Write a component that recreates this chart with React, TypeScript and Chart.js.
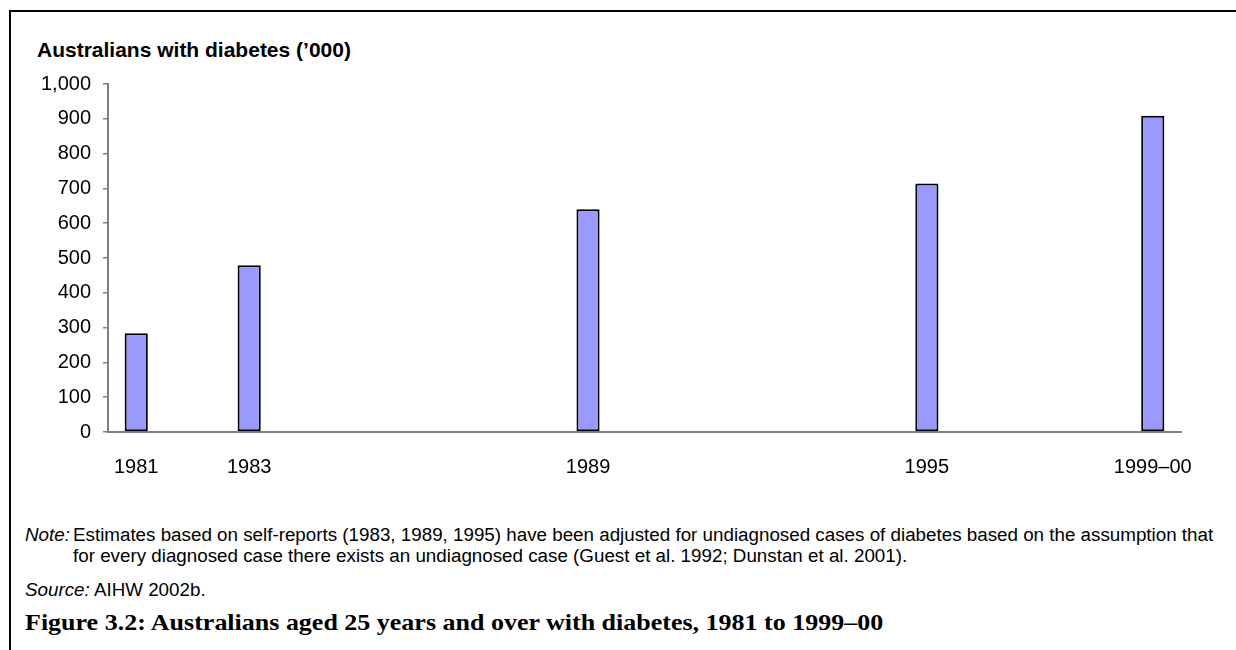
import React, { useEffect, useRef } from 'react';
import { Chart, registerables } from 'chart.js';

Chart.register(...registerables);

// Every year on the axis; only survey years carry a bar and a label
const categories = [
  '1981', '1982', '1983', '1984', '1985', '1986', '1987', '1988', '1989', '1990',
  '1991', '1992', '1993', '1994', '1995', '1996', '1997', '1998', '1999–00',
];
const surveyYears = ['1981', '1983', '1989', '1995', '1999–00'];
const diabetesThousands = [284, 479, 640, 714, 909];

const yTicks = [0, 100, 200, 300, 400, 500, 600, 700, 800, 900, 1000];

const axisTitle = 'Australians with diabetes (’000)';
const noteLines = [
  'Estimates based on self-reports (1983, 1989, 1995) have been adjusted for undiagnosed cases of diabetes based on the assumption that',
  'for every diagnosed case there exists an undiagnosed case (Guest et al. 1992; Dunstan et al. 2001).',
];
const sourceText = 'AIHW 2002b.';
const captionText = 'Figure 3.2: Australians aged 25 years and over with diabetes, 1981 to 1999–00';

const SANS = '"Liberation Sans", Arial, sans-serif';
const SERIF = '"Liberation Serif", "Times New Roman", serif';
const AXIS_GREY = '#808080';

export default function App() {
  const canvasRef = useRef<HTMLCanvasElement | null>(null);

  useEffect(() => {
    const canvas = canvasRef.current;
    if (!canvas) return;

    const series = categories.map((c) => {
      const i = surveyYears.indexOf(c);
      return i >= 0 ? diabetesThousands[i] : null;
    });

    const chart = new Chart(canvas, {
      type: 'bar',
      data: {
        labels: categories,
        datasets: [
          {
            data: series,
            backgroundColor: '#9999ff',
            borderColor: '#000000',
            borderWidth: 2,
            borderSkipped: false,
            categoryPercentage: 1,
            barPercentage: 0.41,
          },
        ],
      },
      options: {
        animation: false,
        responsive: false,
        devicePixelRatio: 1,
        layout: { padding: { left: 37, top: 24, right: 55, bottom: 6 } },
        plugins: {
          legend: { display: false },
          tooltip: { enabled: false },
          title: { display: false },
        },
        scales: {
          x: {
            type: 'category',
            offset: true,
            grid: { display: false },
            border: { display: true, color: AXIS_GREY, width: 2 },
            ticks: {
              autoSkip: false,
              maxRotation: 0,
              minRotation: 0,
              padding: 15,
              color: '#000000',
              font: { family: SANS, size: 20 },
              callback: (_v: any, index: number) =>
                surveyYears.includes(categories[index]) ? categories[index] : '',
            },
            afterFit: (s: any) => {
              s.height = 52;
            },
          },
          y: {
            min: yTicks[0],
            max: yTicks[yTicks.length - 1],
            afterBuildTicks: (s: any) => {
              s.ticks = yTicks.map((v) => ({ value: v }));
            },
            grid: {
              display: true,
              drawOnChartArea: false,
              drawTicks: true,
              tickLength: 5,
              color: AXIS_GREY,
              lineWidth: 1.5,
            },
            border: { display: true, color: AXIS_GREY, width: 2 },
            ticks: {
              padding: 12,
              color: '#000000',
              font: { family: SANS, size: 20 },
              callback: (v: any) => Number(v).toLocaleString('en-US'),
            },
            afterFit: (s: any) => {
              s.width = 71;
            },
          },
        },
      },
    });

    return () => chart.destroy();
  }, []);

  const noteStyle: React.CSSProperties = {
    position: 'absolute',
    fontSize: 18.8,
    lineHeight: '21px',
    whiteSpace: 'nowrap',
  };

  return (
    <div
      style={{
        position: 'fixed',
        left: 0,
        top: 0,
        width: 1236,
        height: 650,
        background: '#ffffff',
        overflow: 'hidden',
        fontFamily: SANS,
        color: '#000',
      }}
    >
      <div
        style={{
          position: 'absolute',
          left: 9,
          top: 10,
          right: -10,
          bottom: -10,
          borderLeft: '2px solid #000',
          borderTop: '2px solid #000',
        }}
      />
      <div
        style={{
          position: 'absolute',
          left: 37,
          top: 38,
          fontWeight: 'bold',
          fontSize: 21,
          lineHeight: '24px',
          whiteSpace: 'nowrap',
        }}
      >
        {axisTitle}
      </div>
      <canvas
        ref={canvasRef}
        width={1236}
        height={430}
        style={{ position: 'absolute', left: 0, top: 60, width: 1236, height: 430 }}
      />
      <div style={{ ...noteStyle, left: 25, top: 524 }}>
        <span style={{ fontStyle: 'italic' }}>Note:</span>
      </div>
      <div style={{ ...noteStyle, left: 73, top: 524 }}>{noteLines[0]}</div>
      <div style={{ ...noteStyle, left: 73, top: 545 }}>{noteLines[1]}</div>
      <div style={{ ...noteStyle, left: 25, top: 579 }}>
        <span style={{ fontStyle: 'italic' }}>Source:</span> {sourceText}
      </div>
      <div
        style={{
          position: 'absolute',
          left: 25,
          top: 609,
          fontFamily: SERIF,
          fontWeight: 'bold',
          fontSize: 23,
          lineHeight: '28px',
          whiteSpace: 'nowrap',
          transform: 'scaleX(1.13)',
          transformOrigin: 'left center',
        }}
      >
        {captionText}
      </div>
    </div>
  );
}
